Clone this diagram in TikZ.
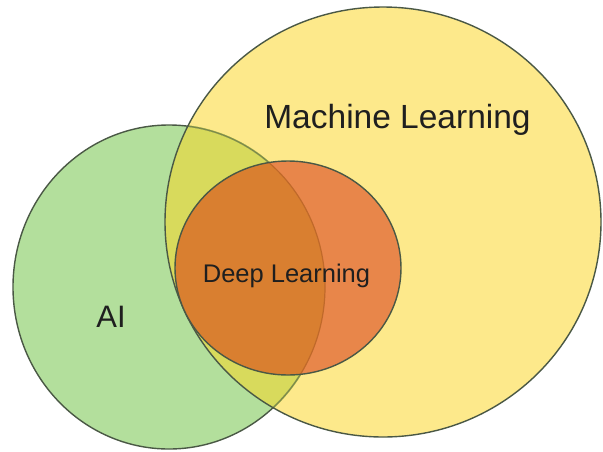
\documentclass[tikz,border=0pt]{standalone}
\usepackage{fontspec}
\setmainfont{Liberation Sans}
\begin{document}
\begin{tikzpicture}[x=1pt,y=-1pt,
  lbl/.style={anchor=base,inner sep=0pt,text=black!88},
  rim/.style={draw=rimc,line width=1.4pt}]
\definecolor{aic}{HTML}{B3DF9C}
\definecolor{mlc}{HTML}{FDE98B}
\definecolor{aimlc}{HTML}{D8DA5C}
\definecolor{dlc}{HTML}{E8864A}
\definecolor{dlaic}{HTML}{D97F30}
\definecolor{rimc}{HTML}{4A5845}
\definecolor{rimfaint}{HTML}{7C8A4C}
\definecolor{rimdl}{HTML}{C0692A}
\useasboundingbox (0,0) rectangle (603,451);
\fill[white] (0,0) rectangle (603,451);
\def\AIpath{(169,287) ellipse [x radius=156, y radius=162]}
\def\MLpath{(383,222) ellipse [x radius=218, y radius=215]}
\def\DLpath{(288,268) ellipse [x radius=113, y radius=107]}
% fills
\fill[aic] \AIpath;
\fill[mlc] \MLpath;
\begin{scope}
  \clip \AIpath;
  \fill[aimlc] \MLpath;
\end{scope}
% green rim: dark outside ML, a little fainter inside ML
\draw[rim] \AIpath;
\begin{scope}
  \clip \MLpath;
  \draw[draw=aimlc,line width=2pt] \AIpath;
  \draw[draw=rimfaint,line width=1.4pt] \AIpath;
\end{scope}
\draw[rim] \MLpath;
% deep learning
\fill[dlc] \DLpath;
\begin{scope}
  \clip \DLpath;
  \fill[dlaic] \AIpath;
  \draw[draw=rimdl,line width=1.2pt] \AIpath;
\end{scope}
\draw[rim] \DLpath;
% labels
\node[lbl,font=\fontsize{33.5}{38}\selectfont] (ml) at (397.5,128) {Machine Learning};
\node[lbl,font=\fontsize{25.5}{30}\selectfont] (dl) at (286.5,282) {Deep Learning};
\node[lbl,font=\fontsize{31}{36}\selectfont] (ai) at (111,327) {AI};
\end{tikzpicture}
\end{document}
